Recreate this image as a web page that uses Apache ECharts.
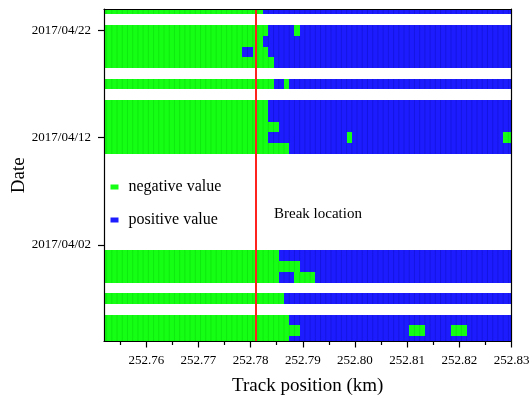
<!DOCTYPE html>
<html>
<head>
<meta charset="utf-8">
<script src="https://cdn.jsdelivr.net/npm/echarts@6/dist/echarts.min.js"></script>
<style>
  html, body { margin: 0; padding: 0; background: #fff; }
  #chart { width: 530px; height: 398px; }
</style>
</head>
<body>
<div id="chart"></div>
<script>
const FONT = "'Liberation Serif', 'Times New Roman', serif"
const GREEN = '#14ff14'
const BLUE = '#1c1cff'
const DAY = 86400000

const trackRange = [252.7519, 252.83]
const dateRange = ['2017-03-24', '2017-04-24']
const xTicks = [252.76, 252.77, 252.78, 252.79, 252.80, 252.81, 252.82, 252.83]
const xMinorTicks = [252.755, 252.765, 252.775, 252.785, 252.795, 252.805, 252.815, 252.825]
const yTickDates = ['2017-04-02', '2017-04-12', '2017-04-22']
const breakLocation = 252.781
const cellSize = 0.001

// [date, from km, to km]
const negativeRuns = [
  ['2017-04-24', 252.7514, 252.7824],
  ['2017-04-22', 252.7514, 252.7834],
  ['2017-04-22', 252.7884, 252.7894],
  ['2017-04-21', 252.7514, 252.7824],
  ['2017-04-20', 252.7514, 252.7784],
  ['2017-04-20', 252.7804, 252.7834],
  ['2017-04-19', 252.7514, 252.7844],
  ['2017-04-17', 252.7514, 252.7844],
  ['2017-04-17', 252.7864, 252.7874],
  ['2017-04-15', 252.7514, 252.7834],
  ['2017-04-14', 252.7514, 252.7834],
  ['2017-04-13', 252.7514, 252.7854],
  ['2017-04-12', 252.7514, 252.7834],
  ['2017-04-12', 252.7984, 252.7994],
  ['2017-04-12', 252.8284, 252.8304],
  ['2017-04-11', 252.7514, 252.7874],
  ['2017-04-01', 252.7514, 252.7854],
  ['2017-03-31', 252.7514, 252.7894],
  ['2017-03-30', 252.7514, 252.7854],
  ['2017-03-30', 252.7884, 252.7924],
  ['2017-03-28', 252.7514, 252.7864],
  ['2017-03-26', 252.7514, 252.7874],
  ['2017-03-25', 252.7514, 252.7894],
  ['2017-03-25', 252.8104, 252.8134],
  ['2017-03-25', 252.8184, 252.8214],
  ['2017-03-24', 252.7514, 252.7874],
]

const positiveRuns = [
  ['2017-04-24', 252.7824, 252.8304],
  ['2017-04-22', 252.7834, 252.7884],
  ['2017-04-22', 252.7894, 252.8304],
  ['2017-04-21', 252.7824, 252.8304],
  ['2017-04-20', 252.7784, 252.7804],
  ['2017-04-20', 252.7834, 252.8304],
  ['2017-04-19', 252.7844, 252.8304],
  ['2017-04-17', 252.7844, 252.7864],
  ['2017-04-17', 252.7874, 252.8304],
  ['2017-04-15', 252.7834, 252.8304],
  ['2017-04-14', 252.7834, 252.8304],
  ['2017-04-13', 252.7854, 252.8304],
  ['2017-04-12', 252.7834, 252.7984],
  ['2017-04-12', 252.7994, 252.8284],
  ['2017-04-11', 252.7874, 252.8304],
  ['2017-04-01', 252.7854, 252.8304],
  ['2017-03-31', 252.7894, 252.8304],
  ['2017-03-30', 252.7854, 252.7884],
  ['2017-03-30', 252.7924, 252.8304],
  ['2017-03-28', 252.7864, 252.8304],
  ['2017-03-26', 252.7874, 252.8304],
  ['2017-03-25', 252.7894, 252.8104],
  ['2017-03-25', 252.8134, 252.8184],
  ['2017-03-25', 252.8214, 252.8304],
  ['2017-03-24', 252.7874, 252.8304],
]

function toMs(date) {
  return new Date(date).getTime()
}

function pad(n) {
  return n < 10 ? '0' + n : '' + n
}

function dateLabel(value) {
  const d = new Date(value)
  return d.getUTCFullYear() + '/' + pad(d.getUTCMonth() + 1) + '/' + pad(d.getUTCDate())
}

function runData(runs) {
  return runs.map(([date, from, to]) => [from, to, toMs(date)])
}

function renderRuns(fill, stripe) {
  return (params, api) => {
    const x0 = api.value(0)
    const x1 = api.value(1)
    const day = api.value(2)
    const a = api.coord([x0, day + DAY / 2])
    const b = api.coord([x1, day - DAY / 2])
    const left = Math.round(a[0])
    const top = Math.round(a[1])
    const rect = echarts.graphic.clipRectByRect(
      { x: left, y: top, width: Math.round(b[0]) - left, height: Math.round(b[1]) - top },
      params.coordSys
    )
    if (!rect) return
    const children = [{ type: 'rect', shape: rect, style: { fill } }]
    for (let x = x0 + cellSize; x < x1 - cellSize / 2; x += cellSize) {
      const px = api.coord([x, day])[0]
      if (px <= rect.x || px >= rect.x + rect.width) continue
      children.push({
        type: 'line',
        shape: { x1: px, y1: rect.y, x2: px, y2: rect.y + rect.height },
        style: { stroke: stripe, lineWidth: 0.5 },
      })
    }
    return { type: 'group', children }
  }
}

const axisLine = { show: true, onZero: false, lineStyle: { color: '#000', width: 1.2 } }
const tickLine = { color: '#000', width: 1.2 }
const frameAxis = {
  axisLine,
  axisTick: { show: false },
  axisLabel: { show: false },
  splitLine: { show: false },
  z: 10,
}

const chart = echarts.init(document.getElementById('chart'), null, { renderer: 'canvas' })

chart.setOption({
  animation: false,
  textStyle: { fontFamily: FONT },
  grid: { left: 104, right: 18.5, top: 9, bottom: 56.5, outerBoundsMode: 'none' },
  legend: {
    data: ['negative value', 'positive value'],
    orient: 'vertical',
    left: 105.5,
    top: 174,
    icon: 'rect',
    itemWidth: 8,
    itemHeight: 5,
    itemGap: 17,
    textStyle: { fontFamily: FONT, fontSize: 16, color: '#000', lineHeight: 16, padding: [0, 0, 0, 5] },
  },
  graphic: [{
    type: 'text',
    left: 274,
    top: 207,
    style: { text: 'Break location', fontFamily: FONT, fontSize: 15, fill: '#000' },
  }],
  xAxis: [
    {
      type: 'value',
      min: trackRange[0],
      max: trackRange[1],
      name: 'Track position (km)',
      nameLocation: 'middle',
      nameGap: 35,
      nameMoveOverlap: false,
      nameTextStyle: { fontFamily: FONT, fontSize: 19, color: '#000' },
      axisLine,
      axisTick: { show: true, length: 6, customValues: xTicks, lineStyle: tickLine },
      axisLabel: {
        customValues: xTicks,
        formatter: v => v.toFixed(2),
        fontFamily: FONT,
        fontSize: 13,
        color: '#000',
        margin: 13,
      },
      splitLine: { show: false },
      z: 10,
    },
    {
      type: 'value',
      min: trackRange[0],
      max: trackRange[1],
      position: 'bottom',
      axisLine: { show: false, onZero: false },
      axisTick: { show: true, length: 3.5, customValues: xMinorTicks, lineStyle: tickLine },
      axisLabel: { show: false },
      splitLine: { show: false },
      z: 10,
    },
    { type: 'value', min: trackRange[0], max: trackRange[1], position: 'top', ...frameAxis },
  ],
  yAxis: [
    {
      type: 'value',
      min: toMs(dateRange[0]),
      max: toMs(dateRange[1]),
      name: 'Date',
      nameLocation: 'middle',
      nameGap: 75,
      nameMoveOverlap: false,
      nameTextStyle: { fontFamily: FONT, fontSize: 19, color: '#000' },
      axisLine,
      axisTick: { show: true, length: 6, customValues: yTickDates.map(toMs), lineStyle: tickLine },
      axisLabel: {
        customValues: yTickDates.map(toMs),
        formatter: dateLabel,
        fontFamily: FONT,
        fontSize: 13,
        color: '#000',
        margin: 13,
      },
      splitLine: { show: false },
      z: 10,
    },
    { type: 'value', min: toMs(dateRange[0]), max: toMs(dateRange[1]), position: 'right', ...frameAxis },
  ],
  series: [
    {
      name: 'negative value',
      type: 'custom',
      xAxisIndex: 0,
      yAxisIndex: 0,
      itemStyle: { color: GREEN },
      encode: { x: [0, 1], y: 2 },
      renderItem: renderRuns(GREEN, '#0bd40b'),
      data: runData(negativeRuns),
      silent: true,
    },
    {
      name: 'positive value',
      type: 'custom',
      xAxisIndex: 0,
      yAxisIndex: 0,
      itemStyle: { color: BLUE },
      encode: { x: [0, 1], y: 2 },
      renderItem: renderRuns(BLUE, '#1010c4'),
      data: runData(positiveRuns),
      silent: true,
    },
    {
      name: 'Break location',
      type: 'line',
      xAxisIndex: 0,
      yAxisIndex: 0,
      data: [],
      silent: true,
      markLine: {
        silent: true,
        precision: 4,
        symbol: ['none', 'none'],
        label: { show: false },
        lineStyle: { color: '#ff2020', width: 2, type: 'solid' },
        data: [{ xAxis: breakLocation }],
      },
    },
  ],
})
</script>
</body>
</html>
